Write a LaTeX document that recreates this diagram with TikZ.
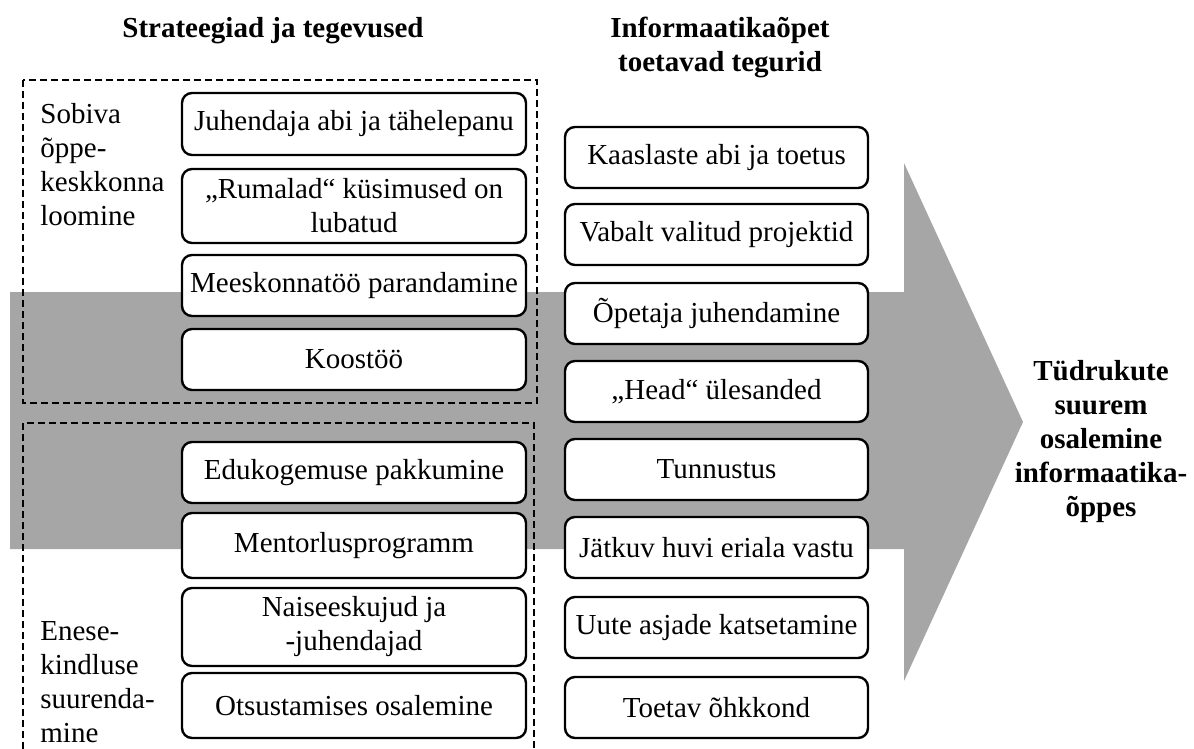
\documentclass[tikz,border=0pt]{standalone}
\usepackage{fontspec}
\setmainfont{Liberation Serif}
\definecolor{arrowgray}{RGB}{166,166,166}
\tikzset{
  txt/.style={font=\fontsize{14.5}{17}\selectfont},
  box/.style={txt, draw, line width=1.2pt, rounded corners=5pt, fill=white, align=center, inner sep=0pt},
  lbox/.style={box, minimum width=172pt},
  rbox/.style={box, minimum width=151.5pt, minimum height=30.5pt},
  groupline/.style={draw, line width=1pt, dash pattern=on 3.5pt off 2pt},
  heading/.style={font=\bfseries\fontsize{14.5}{17}\selectfont, align=center, inner sep=0pt},
  sidelabel/.style={txt, align=left, inner sep=0pt, anchor=north west},
}
\begin{document}
\begin{tikzpicture}[x=0.5pt,y=-0.5pt]
\useasboundingbox (0,0) rectangle (1194,749);
% big gray arrow
\fill[arrowgray] (10,292) -- (904,292) -- (904,163) -- (1023,422) -- (904,681) -- (904,549) -- (10,549) -- cycle;
% dashed groups
\draw[groupline] (23,80) rectangle (537,403);
\draw[groupline] (23,749) -- (23,423) -- (534,423) -- (534,749);
% headings
\node[heading, anchor=base] (t1) at (273,38) {Strateegiad ja tegevused};
\node[heading, anchor=north] (t2) at (720,17) {Informaatikaõpet\\toetavad tegurid};
\node[heading, anchor=north] (goal) at (1101,360) {Tüdrukute\\suurem\\osalemine\\informaatika-\\õppes};
% side labels
\node[sidelabel] (g1) at (40,103) {Sobiva\\õppe-\\keskkonna\\loomine};
\node[sidelabel] (g2) at (40,621) {Enese-\\kindluse\\suurenda-\\mine};
% left boxes
\node[lbox, minimum height=31pt]   (l1) at (354,124)   {Juhendaja abi ja tähelepanu};
\node[lbox, minimum height=37pt]   (l2) at (354,206)   {„Rumalad“ küsimused on\\lubatud};
\node[lbox, minimum height=30.5pt] (l3) at (354,285.5) {Meeskonnatöö parandamine};
\node[lbox, minimum height=30.5pt] (l4) at (354,359.5) {Koostöö};
\node[lbox, minimum height=30.5pt] (l5) at (354,472.5) {Edukogemuse pakkumine};
\node[lbox, minimum height=32.5pt] (l6) at (354,545.5) {Mentorlusprogramm};
\node[lbox, minimum height=39pt]   (l7) at (354,627)   {Naiseeskujud ja\\-juhendajad};
\node[lbox, minimum height=32.5pt] (l8) at (354,705.5) {Otsustamises osalemine};
% right boxes
\node[rbox] (r1) at (716.5,157.5) {Kaaslaste abi ja toetus};
\node[rbox] (r2) at (716.5,234.5) {Vabalt valitud projektid};
\node[rbox] (r3) at (716.5,313.5) {Õpetaja juhendamine};
\node[rbox] (r4) at (716.5,391.5) {„Head“ ülesanded};
\node[rbox] (r5) at (716.5,469.5) {Tunnustus};
\node[rbox] (r6) at (716.5,547.5) {Jätkuv huvi eriala vastu};
\node[rbox] (r7) at (716.5,627.5) {Uute asjade katsetamine};
\node[rbox] (r8) at (716.5,707.5) {Toetav õhkkond};
\end{tikzpicture}
\end{document}
